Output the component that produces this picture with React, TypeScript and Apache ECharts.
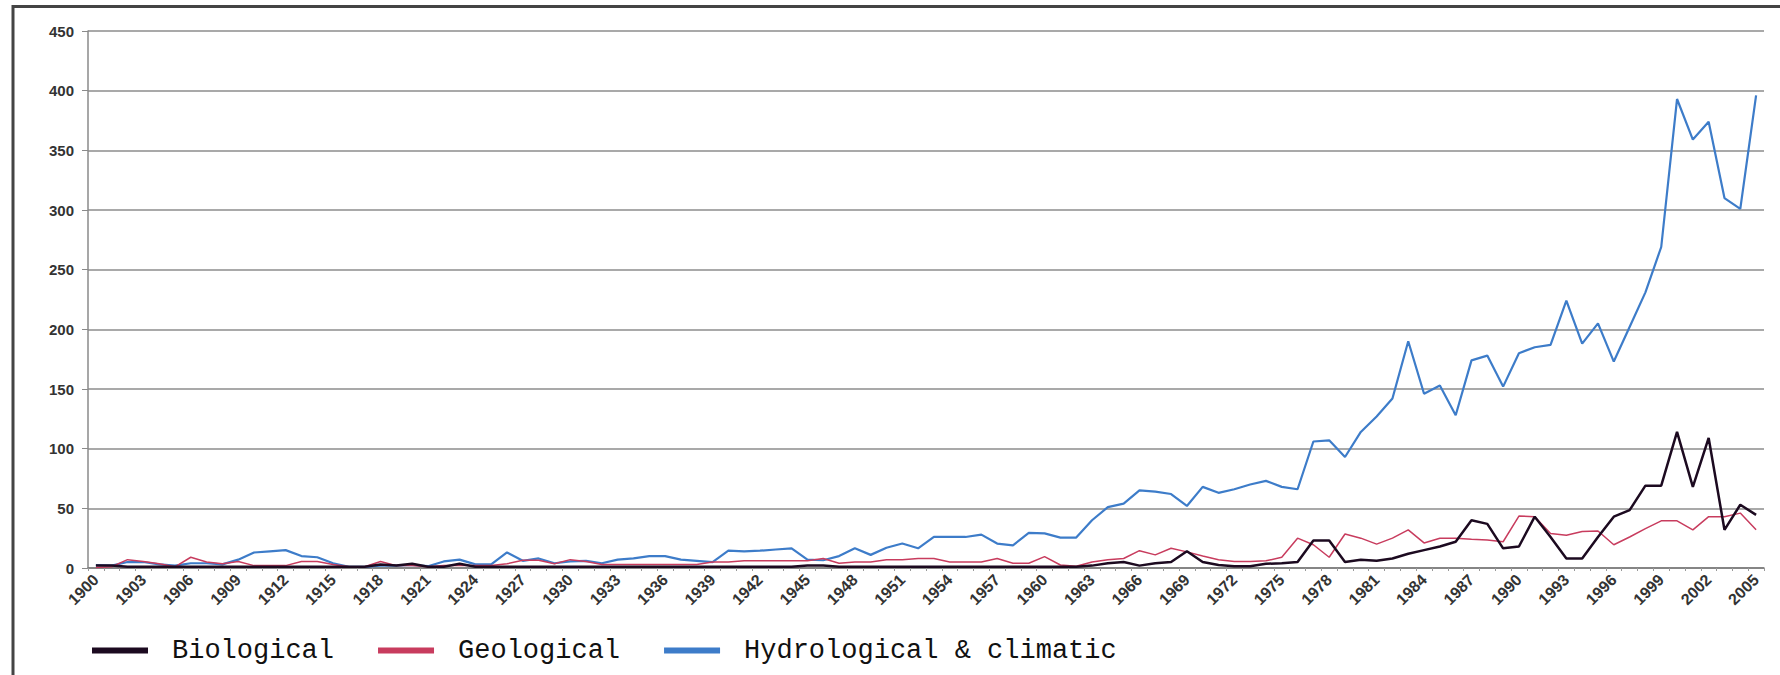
import React, { useEffect, useRef } from "react";
import * as echarts from "echarts";

const years: string[] = [];
for (let y = 1900; y <= 2005; y++) years.push(String(y));

const biological = [
  2, 2, 1, 1, 1, 1, 1, 1, 1, 1,
  1, 1, 1, 1, 1, 1, 1, 1, 3, 2,
  3.5, 1, 1, 3.5, 1, 1, 1, 1, 1, 1,
  1, 1, 1, 1, 1, 1, 1, 1, 1, 1,
  1, 1, 1, 1, 1, 2, 2, 1, 1, 1,
  1, 1, 1, 1, 1, 1, 1, 1, 1, 1,
  1, 1, 1, 2, 4, 5, 2, 4, 5, 14,
  5, 2.5, 1.5, 1.5, 3.5, 4, 5, 23, 23, 5,
  7, 6, 8, 12, 15, 18, 22, 40, 37, 16.5,
  18, 43, 26, 8, 8, 26, 43, 48.5, 69, 69,
  114, 68, 109, 32, 53, 44.5,
];

const geological = [
  0.5, 1, 7, 5.5, 3.5, 1, 9, 5, 3.5, 5.5,
  2, 2, 2, 5.5, 5.5, 3, 1, 1, 5.5, 2,
  2, 1, 2, 2, 2, 2, 3.5, 6.5, 6.5, 3.5,
  7, 5.5, 3, 3, 3, 3, 3, 3, 3, 5,
  5, 6, 6, 6, 6, 6, 8, 4, 5, 5,
  7, 7, 8, 8, 5, 5, 5, 8, 4, 4,
  9.5, 2.5, 1.5, 5, 7, 8, 14.5, 11, 16.5, 13.5,
  10, 7, 5.5, 5.5, 6, 9, 25, 19.5, 9, 28.5,
  25, 20, 25, 32, 21, 25, 25, 24, 23.5, 22,
  43.5, 43, 29, 27.5, 30.5, 31, 19.5, 26, 33, 39.5,
  39.5, 32, 43, 43, 46, 32,
];

const hydroClimatic = [
  2.5, 2, 5, 5, 3, 2, 4, 4, 3, 7,
  13, 14, 15, 10, 9, 4, 1, 1, 2, 2,
  2.5, 1.5, 5.5, 7, 3, 3, 13, 6, 8, 4,
  5.5, 6, 4, 7, 8, 10, 10, 7, 6, 5,
  14.5, 14, 14.5, 15.5, 16.5, 7, 6.5, 10, 16.5, 11,
  17, 20.5, 16.5, 26, 26, 26, 28, 20.5, 19, 29.5,
  29, 25.5, 25.5, 40, 51, 54, 65, 64, 62, 52,
  68, 63, 66, 70, 73, 68, 66, 106, 107, 93,
  114, 127, 142, 190, 146, 153, 128, 174, 178, 152,
  180, 185, 187, 224, 188, 205, 173, 202, 231, 269,
  393, 359, 374, 310, 301, 396,
];

const seriesNames = ["Biological", "Geological", "Hydrological & climatic"];

export default function App() {
  const ref = useRef<HTMLDivElement>(null);

  useEffect(() => {
    if (!ref.current) return;
    const chart = echarts.init(ref.current, undefined, { renderer: "svg" });
    const axisFont = {
      fontFamily: "Liberation Sans, Arial, sans-serif",
      fontWeight: "bold" as const,
      color: "#333",
    };
    chart.setOption({
      animation: false,
      backgroundColor: "#ffffff",
      grid: { left: 88, right: 16, top: 31, bottom: 107, containLabel: false },
      legend: {
        data: seriesNames,
        left: 87,
        top: 632,
        icon: "rect",
        itemWidth: 56,
        itemHeight: 6,
        itemGap: 44,
        selectedMode: false,
        textStyle: {
          fontFamily: "Liberation Mono, monospace",
          fontSize: 27,
          color: "#111",
          padding: [0, 0, 0, 19],
        },
      },
      graphic: [
        {
          type: "rect",
          silent: true,
          shape: { x: 13, y: 6.5, width: 1800, height: 720 },
          style: { fill: "none", stroke: "#444", lineWidth: 3 },
        },
      ],
      xAxis: {
        type: "category",
        data: years,
        boundaryGap: true,
        axisLine: { lineStyle: { color: "#7a7a7a", width: 1.5 } },
        axisTick: { show: true, interval: 0, length: 3, lineStyle: { color: "#999" } },
        axisLabel: { ...axisFont, interval: 2, rotate: 45, fontSize: 16, margin: 9 },
        splitLine: { show: false },
      },
      yAxis: {
        type: "value",
        min: 0,
        max: 450,
        interval: 50,
        axisLine: { show: true, lineStyle: { color: "#8a8a8a", width: 1.5 } },
        axisTick: { show: true, length: 6, lineStyle: { color: "#8a8a8a" } },
        splitLine: { lineStyle: { color: "#8c8c8c", width: 1.5 } },
        axisLabel: { ...axisFont, fontSize: 15, margin: 14 },
      },
      series: [
        {
          name: seriesNames[0],
          type: "line",
          data: biological,
          symbol: "none",
          z: 4,
          color: "#1c0a20",
          lineStyle: { color: "#1c0a20", width: 2.5 },
        },
        {
          name: seriesNames[1],
          type: "line",
          data: geological,
          symbol: "none",
          z: 3,
          color: "#c83c5e",
          lineStyle: { color: "#c83c5e", width: 1.5 },
        },
        {
          name: seriesNames[2],
          type: "line",
          data: hydroClimatic,
          symbol: "none",
          z: 2,
          color: "#3d7cc9",
          lineStyle: { color: "#3d7cc9", width: 2.2 },
        },
      ],
    });
    return () => chart.dispose();
  }, []);

  return (
    <div
      ref={ref}
      style={{ position: "fixed", left: 0, top: 0, width: 1780, height: 675, background: "#fff" }}
    />
  );
}
